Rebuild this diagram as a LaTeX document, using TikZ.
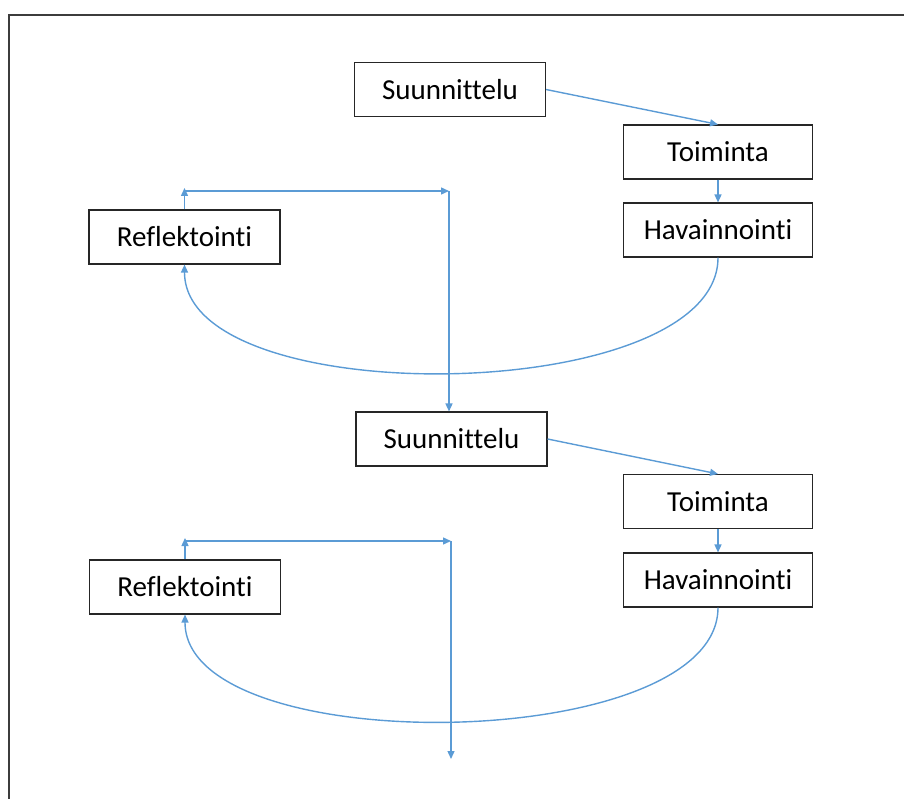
\documentclass[tikz,border=0pt]{standalone}
\usepackage{fontspec}
\setmainfont{Carlito}[Ligatures=NoCommon]
\usetikzlibrary{arrows.meta,calc}
\definecolor{lineblue}{RGB}{91,155,213}
\definecolor{framegray}{RGB}{60,60,60}
\begin{document}
\begin{tikzpicture}[x=1pt,y=-1pt,
  box/.style={draw=black!85,line width=1.1pt,minimum height=54pt,inner sep=0pt,font=\fontsize{29}{35}\selectfont},
  wide/.style={box,minimum width=191pt},
  narrow/.style={box,minimum width=189pt},
  arr/.style={draw=lineblue,line width=1.4pt,-{Triangle[length=8pt,width=7pt]}}]
\useasboundingbox (0,0) rectangle (904,799);
\draw[framegray,line width=1.6pt] (9,799) -- (9,15) -- (904,15);
% nodes
\node[wide] (sun1) at (450,89.5) {Suunnittelu};
\node[narrow] (tom1) at (718,152) {Toiminta};
\node[narrow] (hav1) at (718,230) {Havainnointi};
\node[wide] (ref1) at (184.5,237) {Reflektointi};
\node[wide] (sun2) at (451.5,439) {Suunnittelu};
\node[narrow] (tom2) at (718,501.5) {Toiminta};
\node[narrow] (hav2) at (718,580) {Havainnointi};
\node[wide] (ref2) at (185,587) {Reflektointi};
% first cycle
\coordinate (a1) at (184.5,188);
\coordinate (b1) at (449,191);
\draw[arr] (sun1.east) -- (tom1.north);
\draw[arr] (tom1.south) -- (hav1.north);
\draw[arr] (hav1.south) .. controls +(0,149) and ($(ref1.south)+(0,149)$) .. (ref1.south);
\draw[arr] (ref1.north) -- (a1);
\draw[arr] (a1 |- b1) -- (b1);
\draw[arr] (b1) -- (sun2.north -| b1);
% second cycle
\coordinate (a2) at (185,538);
\coordinate (b2) at (451,541);
\coordinate (e2) at (451,759);
\draw[arr] (sun2.east) -- (tom2.north);
\draw[arr] (tom2.south) -- (hav2.north);
\draw[arr] (hav2.south) .. controls +(0,147) and ($(ref2.south)+(0,147)$) .. (ref2.south);
\draw[arr] (ref2.north) -- (a2);
\draw[arr] (a2 |- b2) -- (b2);
\draw[arr] (b2) -- (e2);
\end{tikzpicture}
\end{document}
